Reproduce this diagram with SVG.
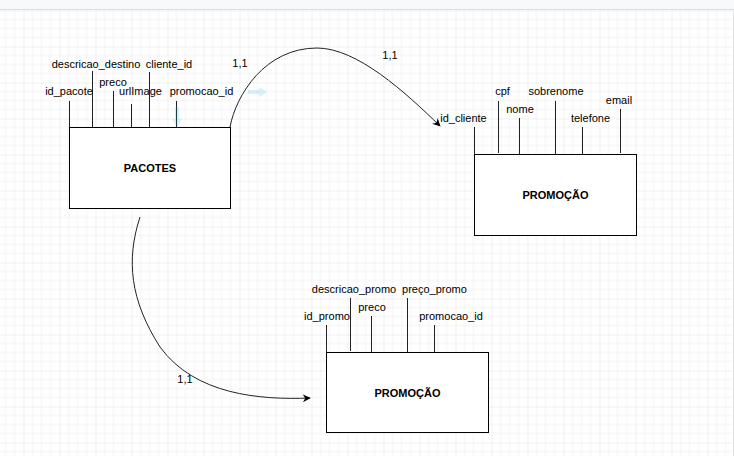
<svg xmlns="http://www.w3.org/2000/svg" width="734" height="456" viewBox="0 0 734 456">
<defs>
<pattern id="grid" patternUnits="userSpaceOnUse" x="-12.5" y="10.5" width="36" height="36">
<path d="M9 0V36M18 0V36M27 0V36M0 9H36M0 18H36M0 27H36" stroke="#f2f2f2" stroke-width="1" fill="none"/>
<path d="M0 0V36M0 0H36" stroke="#e2e2e2" stroke-width="1" fill="none"/>
</pattern>
<marker id="arr" viewBox="0 0 10 10" refX="9" refY="5" markerWidth="8" markerHeight="8" markerUnits="userSpaceOnUse" orient="auto">
<path d="M0,0 L10,5 L0,10 L3,5 Z" fill="#000"/>
</marker>
<style>
text{font-family:"Liberation Sans",Arial,sans-serif;font-size:11px;fill:#000;text-anchor:middle}
.t{font-weight:bold}
.box{fill:#fff;stroke:#000;stroke-width:1}
.attr{stroke:#222;stroke-width:1;fill:none}
.edge{stroke:#222;stroke-width:1;fill:none}
.hint{fill:#29b6f2;opacity:0.18}
</style>
</defs>
<rect width="734" height="456" fill="#fff"/>
<rect width="734" height="456" fill="url(#grid)"/>
<rect x="0" y="0" width="734" height="9.5" fill="#f8f9fa"/>
<line x1="0" y1="9.5" x2="734" y2="9.5" stroke="#dadce0"/>
<line x1="733.5" y1="9.5" x2="733.5" y2="456" stroke="#e4e4e4"/>

<g id="pacotes">
<rect class="box" x="69.5" y="127.5" width="161" height="81"/>
<text class="t" x="150" y="172">PACOTES</text>
<line class="attr" x1="69.5" y1="101" x2="69.5" y2="127"/>
<line class="attr" x1="92.5" y1="71" x2="92.5" y2="127"/>
<line class="attr" x1="113.5" y1="91" x2="113.5" y2="127"/>
<line class="attr" x1="131.5" y1="104" x2="131.5" y2="127"/>
<line class="attr" x1="149.5" y1="72" x2="149.5" y2="127"/>
<line class="attr" x1="176.5" y1="101" x2="176.5" y2="127"/>
<text x="69" y="95">id_pacote</text>
<text x="96" y="68">descricao_destino</text>
<text x="113" y="86">preco</text>
<text x="140.5" y="95">urlImage</text>
<text x="169" y="68">cliente_id</text>
<text x="201.5" y="95">promocao_id</text>
</g>

<g id="promocao_cliente">
<rect class="box" x="474.5" y="154.5" width="162" height="81"/>
<text class="t" x="555.5" y="199">PROMOÇÃO</text>
<line class="attr" x1="474.5" y1="127" x2="474.5" y2="154"/>
<line class="attr" x1="498.5" y1="101" x2="498.5" y2="153"/>
<line class="attr" x1="519.5" y1="118" x2="519.5" y2="154"/>
<line class="attr" x1="555.5" y1="101" x2="555.5" y2="154"/>
<line class="attr" x1="582.5" y1="127" x2="582.5" y2="154"/>
<line class="attr" x1="620.5" y1="109" x2="620.5" y2="153"/>
<text x="463.5" y="122">id_cliente</text>
<text x="502.5" y="95">cpf</text>
<text x="520" y="113">nome</text>
<text x="556" y="95">sobrenome</text>
<text x="590.5" y="122">telefone</text>
<text x="619" y="104">email</text>
</g>

<g id="promocao">
<rect class="box" x="326.5" y="352.5" width="162" height="80"/>
<text class="t" x="407.5" y="397">PROMOÇÃO</text>
<line class="attr" x1="326.5" y1="325" x2="326.5" y2="352"/>
<line class="attr" x1="350.5" y1="298" x2="350.5" y2="351"/>
<line class="attr" x1="371.5" y1="316" x2="371.5" y2="352"/>
<line class="attr" x1="407.5" y1="298" x2="407.5" y2="352"/>
<line class="attr" x1="434.5" y1="325" x2="434.5" y2="352"/>
<text x="327" y="320">id_promo</text>
<text x="354" y="293">descricao_promo</text>
<text x="372" y="311">preco</text>
<text x="434.5" y="293">preço_promo</text>
<text x="451" y="320">promocao_id</text>
</g>

<g id="connectors">
<path class="edge" d="M230,127 C236,95 265,48 317,48 C357,48 405,92 440,126" marker-end="url(#arr)"/>
<path class="edge" d="M140,217 C126,260 130,300 160,347 C195,395 260,400 310,398" marker-end="url(#arr)"/>
<text x="240" y="67">1,1</text>
<text x="390" y="59">1,1</text>
<text x="185" y="383">1,1</text>
</g>

<g id="hints">
<path class="hint" d="M248,90 H259 V87 L267,92 L259,97 V94 H248 Z"/>
<path class="hint" d="M175,107 V119 H172 L177,127 L182,119 H179 V107 Z"/>
</g>
</svg>
